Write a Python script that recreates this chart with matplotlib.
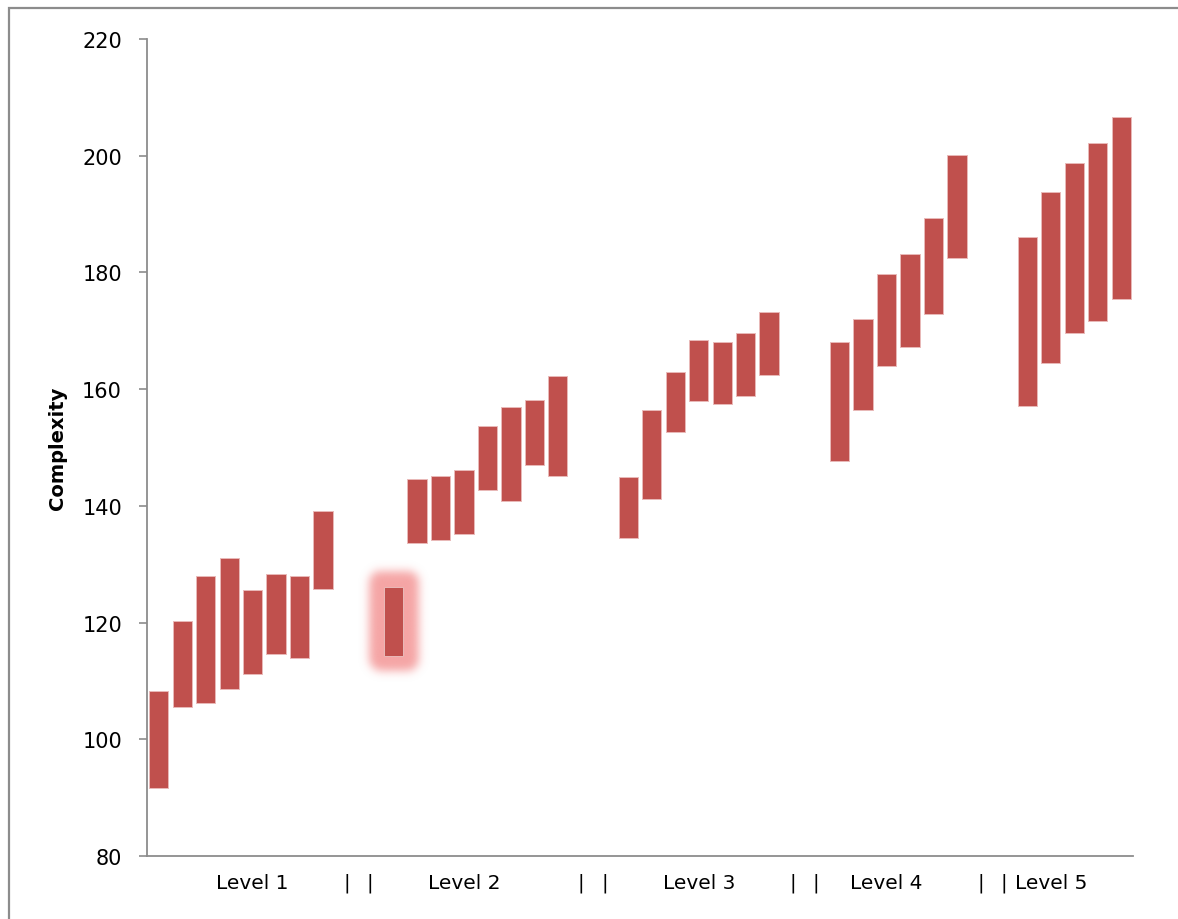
import numpy as np
import matplotlib
matplotlib.use("Agg")
import matplotlib.pyplot as plt
from matplotlib.patches import Rectangle

# Category slots along the x axis (42 slots, separators between levels)
category_labels = [
    "", "", "", "", "Level 1", "", "", "", "|", "|",
    "", "", "", "Level 2", "", "", "", "", "|", "|",
    "", "", "", "Level 3", "", "", "", "|", "|",
    "", "", "Level 4", "", "", "", "|", "|",
    "", "Level 5", "", "", "",
]

nan = np.nan
# Floating bar ranges: lower and upper complexity per slot
low = [91.7, 105.5, 106.2, 108.6, 111.2, 114.6, 114.0, 125.8, nan, nan,
       114.2, 133.6, 134.1, 135.2, 142.7, 140.8, 147.0, 145.2, nan, nan,
       134.5, 141.2, 152.6, 157.9, 157.4, 158.9, 162.4, nan, nan,
       147.7, 156.4, 163.9, 167.2, 172.8, 182.5, nan, nan,
       157.1, 164.4, 169.6, 171.7, 175.4]
high = [108.3, 120.2, 128.0, 131.0, 125.5, 128.4, 128.0, 139.2, nan, nan,
        126.1, 144.6, 145.1, 146.2, 153.7, 157.0, 158.1, 162.3, nan, nan,
        144.9, 156.5, 163.0, 168.5, 168.0, 169.6, 173.3, nan, nan,
        168.0, 172.0, 179.7, 183.2, 189.3, 200.1, nan, nan,
        186.0, 193.7, 198.7, 202.1, 206.6]
highlight_slot = 10

y_ticks = [80, 100, 120, 140, 160, 180, 200, 220]

W, H = 1178, 920
fig = plt.figure(figsize=(W / 100, H / 100), dpi=100)
ax = fig.add_axes([147 / W, (H - 857) / H, (1133 - 147) / W, (857 - 40) / H])

x = np.arange(len(category_labels))
low_a = np.array(low)
high_a = np.array(high)
bar_w = 0.82
bar_color = "#C0504D"

ax.bar(x, high_a - low_a, bottom=low_a, width=bar_w, color=bar_color,
       edgecolor="#E9B9B8", linewidth=0.7, zorder=3)

ax.set_xlim(-0.5, len(category_labels) - 0.5)
ax.set_ylim(y_ticks[0], y_ticks[-1])
ax.set_yticks(y_ticks)
ax.set_xticks(x)
ax.set_xticklabels(category_labels, fontsize=14.5)
ax.tick_params(axis="x", length=0, pad=12)
ax.tick_params(axis="y", length=6, width=1.2, color="#8C8C8C", pad=12,
               labelsize=15)

for side in ("top", "right"):
    ax.spines[side].set_visible(False)
for side in ("left", "bottom"):
    ax.spines[side].set_color("#8C8C8C")
    ax.spines[side].set_linewidth(1.3)

ax.set_ylabel("Complexity", fontsize=14, fontweight="bold", labelpad=11)

# Soft glow around the highlighted bar, built in pixel space then blurred
def gaussian_blur(img, sigma):
    r = int(3 * sigma)
    k = np.exp(-0.5 * (np.arange(-r, r + 1) / sigma) ** 2)
    k /= k.sum()
    img = np.apply_along_axis(lambda m: np.convolve(m, k, mode="same"), 0, img)
    img = np.apply_along_axis(lambda m: np.convolve(m, k, mode="same"), 1, img)
    return img

hx = x[highlight_slot]
(px0, py0) = ax.transData.transform((hx - bar_w / 2, low_a[highlight_slot]))
(px1, py1) = ax.transData.transform((hx + bar_w / 2, high_a[highlight_slot]))
grow, margin = 15, 40
gx0, gx1 = px0 - margin, px1 + margin
gy0, gy1 = py0 - margin, py1 + margin
nx, ny = int(gx1 - gx0), int(gy1 - gy0)
xx, yy = np.meshgrid(np.arange(nx) + gx0 + 0.5, np.arange(ny) + gy0 + 0.5)
# rounded-rectangle mask expanded around the bar
rad = 12
cx = np.clip(xx, px0 - grow + rad, px1 + grow - rad)
cy = np.clip(yy, py0 - grow + rad, py1 + grow - rad)
mask = (np.hypot(xx - cx, yy - cy) <= rad).astype(float)
alpha = gaussian_blur(mask, 4.5) * 0.95
rgba = np.zeros((ny, nx, 4))
rgba[..., 0] = 245 / 255
rgba[..., 1] = 160 / 255
rgba[..., 2] = 160 / 255
rgba[..., 3] = alpha
inv = ax.transData.inverted()
dx0, dy0 = inv.transform((gx0, gy0))
dx1, dy1 = inv.transform((gx1, gy1))
ax.imshow(rgba, extent=(dx0, dx1, dy0, dy1), origin="lower", aspect="auto",
          interpolation="bilinear", zorder=2)
ax.set_xlim(-0.5, len(category_labels) - 0.5)
ax.set_ylim(y_ticks[0], y_ticks[-1])

# Outer chart frame
fig.patches.append(Rectangle((8.5 / W, -0.05), 1.2, (H - 8.5) / H + 0.05,
                             transform=fig.transFigure, fill=False,
                             edgecolor="#8C8C8C", linewidth=1.6))

fig.savefig("out.png", dpi=100)
